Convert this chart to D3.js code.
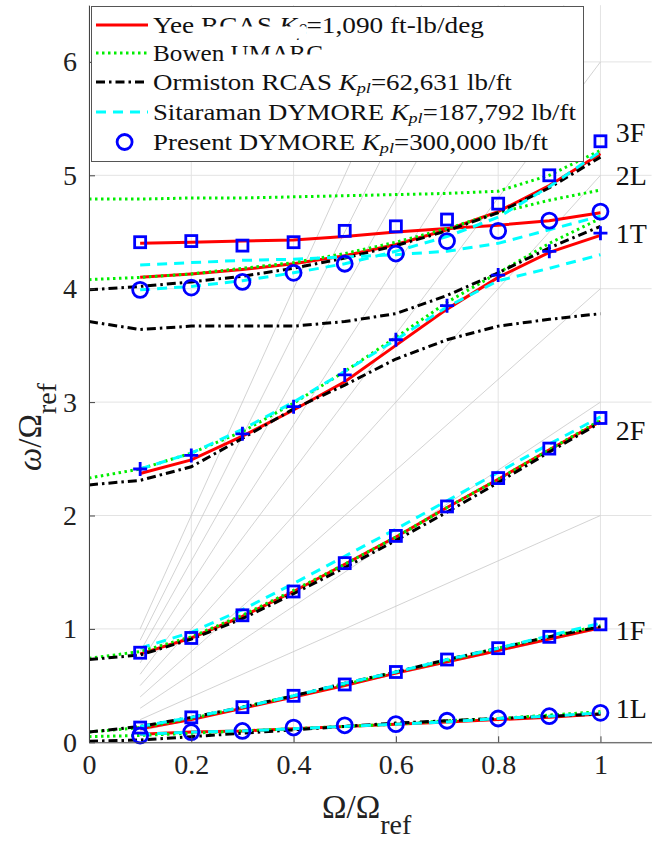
<!DOCTYPE html>
<html>
<head>
<meta charset="utf-8">
<script src="https://cdn.jsdelivr.net/npm/d3@7"></script>
<style>
  body { margin: 0; background: #fff; }
</style>
</head>
<body>
<div id="chart-area"></div>
<script>
// rotor speed samples
var speeds = [0.1, 0.2, 0.3, 0.4, 0.5, 0.6, 0.7, 0.8, 0.9, 1.0];
var speedsFrom0 = [0, 0.1, 0.2, 0.3, 0.4, 0.5, 0.6, 0.7, 0.8, 0.9, 1.0];

// Yee RCAS
var yee1L = [0.07, 0.09, 0.10, 0.12, 0.14, 0.16, 0.18, 0.20, 0.22, 0.25];
var yee1F = [0.12, 0.20, 0.30, 0.40, 0.50, 0.61, 0.71, 0.81, 0.91, 1.01];
var yee2F = [0.78, 0.92, 1.11, 1.33, 1.57, 1.81, 2.07, 2.32, 2.58, 2.83];
var yee1T = [2.37, 2.49, 2.70, 2.93, 3.18, 3.50, 3.82, 4.10, 4.32, 4.47];
var yee2L = [4.40, 4.41, 4.42, 4.43, 4.46, 4.50, 4.53, 4.56, 4.60, 4.67];
var yee3F = [4.10, 4.13, 4.17, 4.22, 4.29, 4.39, 4.52, 4.68, 4.91, 5.19];

// Bowen UMARC
var bowen1L = [0.05, 0.06, 0.08, 0.10, 0.12, 0.14, 0.16, 0.19, 0.21, 0.24, 0.27];
var bowen1F = [0.09, 0.13, 0.21, 0.31, 0.41, 0.51, 0.62, 0.72, 0.83, 0.93, 1.03];
var bowen2F = [0.74, 0.80, 0.93, 1.12, 1.34, 1.57, 1.81, 2.07, 2.32, 2.58, 2.84];
var bowen1T = [2.33, 2.41, 2.55, 2.74, 2.99, 3.27, 3.57, 3.88, 4.14, 4.40, 4.62];
var bowen2L = [4.79, 4.79, 4.80, 4.80, 4.81, 4.82, 4.83, 4.84, 4.86, 5.00, 5.22];
var bowen3F = [4.08, 4.10, 4.13, 4.18, 4.23, 4.31, 4.41, 4.53, 4.67, 4.78, 4.87];

// Ormiston RCAS
var orm1L = [0.01, 0.02, 0.05, 0.08, 0.11, 0.14, 0.17, 0.19, 0.21, 0.23, 0.25];
var orm1F = [0.09, 0.14, 0.22, 0.31, 0.41, 0.52, 0.62, 0.73, 0.83, 0.93, 1.02];
var orm2F = [0.73, 0.77, 0.91, 1.09, 1.31, 1.54, 1.78, 2.03, 2.29, 2.56, 2.82];
var orm1T = [2.27, 2.31, 2.43, 2.68, 2.94, 3.15, 3.38, 3.55, 3.67, 3.73, 3.78];
var orm2L = [3.71, 3.64, 3.67, 3.67, 3.67, 3.71, 3.78, 3.94, 4.14, 4.36, 4.55];
var orm3F = [3.99, 4.02, 4.06, 4.11, 4.18, 4.27, 4.38, 4.51, 4.67, 4.89, 5.16];

// Sitaraman DYMORE
var sit1L = [0.07, 0.09, 0.10, 0.12, 0.14, 0.16, 0.18, 0.21, 0.23, 0.26];
var sit1F = [0.14, 0.22, 0.31, 0.41, 0.52, 0.62, 0.73, 0.83, 0.94, 1.05];
var sit2F = [0.83, 0.97, 1.17, 1.40, 1.64, 1.88, 2.13, 2.38, 2.63, 2.87];
var sit1T = [2.41, 2.55, 2.76, 3.00, 3.27, 3.55, 3.84, 4.07, 4.18, 4.30];
var sit2L = [4.21, 4.23, 4.25, 4.26, 4.28, 4.30, 4.33, 4.40, 4.52, 4.64];
var sit3F = [3.99, 4.02, 4.07, 4.14, 4.22, 4.33, 4.46, 4.63, 4.90, 5.21];

// Present DYMORE (markers)
var pre1L = [0.06, 0.09, 0.10, 0.13, 0.15, 0.16, 0.19, 0.21, 0.23, 0.26];
var pre1F = [0.13, 0.22, 0.31, 0.41, 0.51, 0.62, 0.73, 0.83, 0.93, 1.04];
var pre2F = [0.79, 0.92, 1.12, 1.33, 1.58, 1.82, 2.08, 2.33, 2.59, 2.86];
var pre1T = [2.41, 2.53, 2.72, 2.96, 3.24, 3.55, 3.85, 4.12, 4.33, 4.49];
var pre2L = [3.99, 4.01, 4.06, 4.14, 4.22, 4.31, 4.42, 4.51, 4.60, 4.68];
var pre3F = [4.41, 4.42, 4.38, 4.41, 4.51, 4.55, 4.61, 4.75, 5.00, 5.30];

// per-rev fan lines and mode labels
var perRev = [1, 2, 3, 4, 5, 6, 7, 8, 9, 10];
var modeNames = ["3F", "2L", "1T", "2F", "1F", "1L"];
var modeLabelY = [5.38, 5.00, 4.49, 2.75, 0.99, 0.30];

var xTicks = [0, 0.2, 0.4, 0.6, 0.8, 1];
var yTicks = [0, 1, 2, 3, 4, 5, 6];

var serif = "Liberation Serif, Times New Roman, serif";
var W = 652, H = 846;
var svg = d3.select("#chart-area").append("svg")
	.attr("width", W).attr("height", H)
	.attr("font-family", serif);

var x = d3.scaleLinear().domain([0, 1.1]).range([89, 651.6]);
var y = d3.scaleLinear().domain([0, 6.5]).range([742.3, 5.2]);

svg.append("defs").append("clipPath").attr("id", "plotclip")
	.append("rect")
	.attr("x", x(0)).attr("y", y(6.5))
	.attr("width", x(1.1) - x(0)).attr("height", y(0) - y(6.5));

// grid
var grid = svg.append("g").attr("class", "grid");
grid.selectAll(".gx").data(xTicks).enter().append("line")
	.attr("x1", d => x(d)).attr("x2", d => x(d))
	.attr("y1", y(0)).attr("y2", y(6.5))
	.attr("stroke", "#e3e3e3").attr("stroke-width", 1);
grid.selectAll(".gy").data(yTicks).enter().append("line")
	.attr("x1", x(0)).attr("x2", x(1.1))
	.attr("y1", d => y(d)).attr("y2", d => y(d))
	.attr("stroke", "#e3e3e3").attr("stroke-width", 1);

// n-per-rev lines
var plot = svg.append("g").attr("clip-path", "url(#plotclip)");
plot.selectAll(".rev").data(perRev).enter().append("line")
	.attr("x1", x(0.1)).attr("y1", n => y(0.1 * n))
	.attr("x2", n => x(Math.min(1, 6.5 / n)))
	.attr("y2", n => y(n * Math.min(1, 6.5 / n)))
	.attr("stroke", "#c8c8c8").attr("stroke-width", 0.8);

// series
var sources = [
	{ xs: speeds, color: "#ff0000", dash: null, modes: [yee1L, yee1F, yee2F, yee1T, yee2L, yee3F] },
	{ xs: speedsFrom0, color: "#00ee00", dash: "2.5,3.5", modes: [bowen1L, bowen1F, bowen2F, bowen1T, bowen2L, bowen3F] },
	{ xs: speedsFrom0, color: "#000000", dash: "9,4,2.5,4", modes: [orm1L, orm1F, orm2F, orm1T, orm2L, orm3F] },
	{ xs: speeds, color: "#00ffff", dash: "10,7", modes: [sit1L, sit1F, sit2F, sit1T, sit2L, sit3F] }
];

var line = d3.line();
sources.forEach(function(s) {
	plot.selectAll(null).data(s.modes).enter().append("path")
		.attr("d", vals => line(vals.map((v, i) => [x(s.xs[i]), y(v)])))
		.attr("fill", "none")
		.attr("stroke", s.color)
		.attr("stroke-width", 3)
		.attr("stroke-dasharray", s.dash);
});

// present markers
var markerBlue = "#0000ff";
function drawMarker(g, shape, cx, cy) {
	if (shape === "o") {
		g.append("circle").attr("cx", cx).attr("cy", cy).attr("r", 7.5)
			.attr("fill", "none").attr("stroke", markerBlue).attr("stroke-width", 2.8);
	} else if (shape === "s") {
		g.append("rect").attr("x", cx - 5.5).attr("y", cy - 5.5)
			.attr("width", 11).attr("height", 11)
			.attr("fill", "none").attr("stroke", markerBlue).attr("stroke-width", 2.8);
	} else {
		g.append("path").attr("d", "M" + (cx - 7) + "," + cy + "H" + (cx + 7) + "M" + cx + "," + (cy - 7) + "V" + (cy + 7))
			.attr("stroke", markerBlue).attr("stroke-width", 2.8);
	}
}
var presentModes = [[pre1L, "o"], [pre1F, "s"], [pre2F, "s"], [pre1T, "+"], [pre2L, "o"], [pre3F, "s"]];
var mk = svg.append("g");
presentModes.forEach(function(m) {
	m[0].forEach(function(v, i) { drawMarker(mk, m[1], x(speeds[i]), y(v)); });
});

// axes
var axisColor = "#444";
var xAxis = d3.axisBottom(x).tickValues(xTicks).tickSizeInner(-6).tickSizeOuter(0)
	.tickPadding(12).tickFormat(d3.format("~g"));
var gx = svg.append("g").attr("transform", "translate(0," + y(0) + ")").call(xAxis);

var yAxis = d3.axisLeft(y).tickValues(yTicks).tickSizeInner(-6).tickSizeOuter(0)
	.tickPadding(12).tickFormat(d3.format("d"));
var gy = svg.append("g").attr("transform", "translate(" + x(0) + ",0)").call(yAxis);

[gx, gy].forEach(function(g) {
	g.attr("font-family", serif).attr("font-size", 28);
	g.selectAll("text").attr("fill", "#222");
	g.select(".domain").attr("stroke", axisColor);
	g.selectAll(".tick line").attr("stroke", axisColor);
});

// mode labels
svg.selectAll(".mode").data(modeNames).enter().append("text")
	.attr("x", x(1.03)).attr("y", (d, i) => y(modeLabelY[i]))
	.attr("dy", "0.34em")
	.attr("font-size", 28).attr("fill", "#111")
	.text(d => d);

// axis labels
var xl = svg.append("text").attr("x", 322).attr("y", 818)
	.attr("font-size", 33).attr("fill", "#222");
xl.append("tspan").text("\u03a9/\u03a9");
xl.append("tspan").attr("dy", 16).attr("font-size", 28).text("ref");

var yl = svg.append("text")
	.attr("transform", "translate(41,471) rotate(-90)")
	.attr("font-size", 33).attr("fill", "#222");
yl.append("tspan").attr("font-style", "italic").text("\u03c9");
yl.append("tspan").text("/\u03a9");
yl.append("tspan").attr("dy", 15).attr("font-size", 28).text("ref");

// legend
var legend = svg.append("g");
legend.append("rect").attr("x", 91.5).attr("y", 6.5).attr("width", 492).attr("height", 155)
	.attr("fill", "#fff").attr("stroke", "#555").attr("stroke-width", 1);

var legendNames = [
	["Yee RCAS ", "\u03b2", "=1,090 ft-lb/deg"],
	["Bowen UMARC"],
	["Ormiston RCAS ", "pl", "=62,631 lb/ft"],
	["Sitaraman DYMORE ", "pl", "=187,792 lb/ft"],
	["Present DYMORE ", "pl", "=300,000 lb/ft"]
];
var legendBase = [33, 61, 90, 120, 150];
var legendWidth = [331, 170, 359, 423, 395];
var legendFont = 23;
var yeeCoverEnd = 300;

legendNames.forEach(function(parts, i) {
	var t = legend.append("text").attr("x", 153).attr("y", legendBase[i])
		.attr("font-size", legendFont).attr("fill", "#111");
	t.append("tspan").text(parts[0]);
	if (parts.length > 1) {
		t.append("tspan").attr("font-style", "italic").text("K");
		t.append("tspan").attr("font-style", "italic").attr("font-size", legendFont * 0.68)
			.attr("dy", 3.5).text(parts[1]);
		t.append("tspan").attr("dy", -3.5).text(parts[2]);
	}
	// stretch horizontally to the width of the original (wider) typeface
	var w = t.node().getComputedTextLength();
	var sx = legendWidth[i] / w;
	t.attr("transform", "translate(153,0) scale(" + sx + ",1) translate(-153,0)");
	if (i === 0) {
		var nBefore = parts[0].length + 1 + parts[1].length;
		yeeCoverEnd = 153 + sx * t.node().getSubStringLength(0, nBefore);
	}
	// rows overlap in the original: the row drawn next hides part of this one
	if (i === 1) {
		legend.append("rect").attr("x", 198).attr("y", 26.5).attr("width", yeeCoverEnd - 198).attr("height", 12).attr("fill", "#fff");
	}
	if (i === 2) {
		legend.append("rect").attr("x", 226).attr("y", 54.5).attr("width", 97).attr("height", 10).attr("fill", "#fff");
	}
});

sources.forEach(function(s, i) {
	var ly = legendBase[i] - 8;
	legend.append("line").attr("x1", 96).attr("x2", 148).attr("y1", ly).attr("y2", ly)
		.attr("stroke", s.color).attr("stroke-width", 3).attr("stroke-dasharray", s.dash);
});
drawMarker(legend, "o", 124.6, legendBase[4] - 8);
</script>
</body>
</html>
